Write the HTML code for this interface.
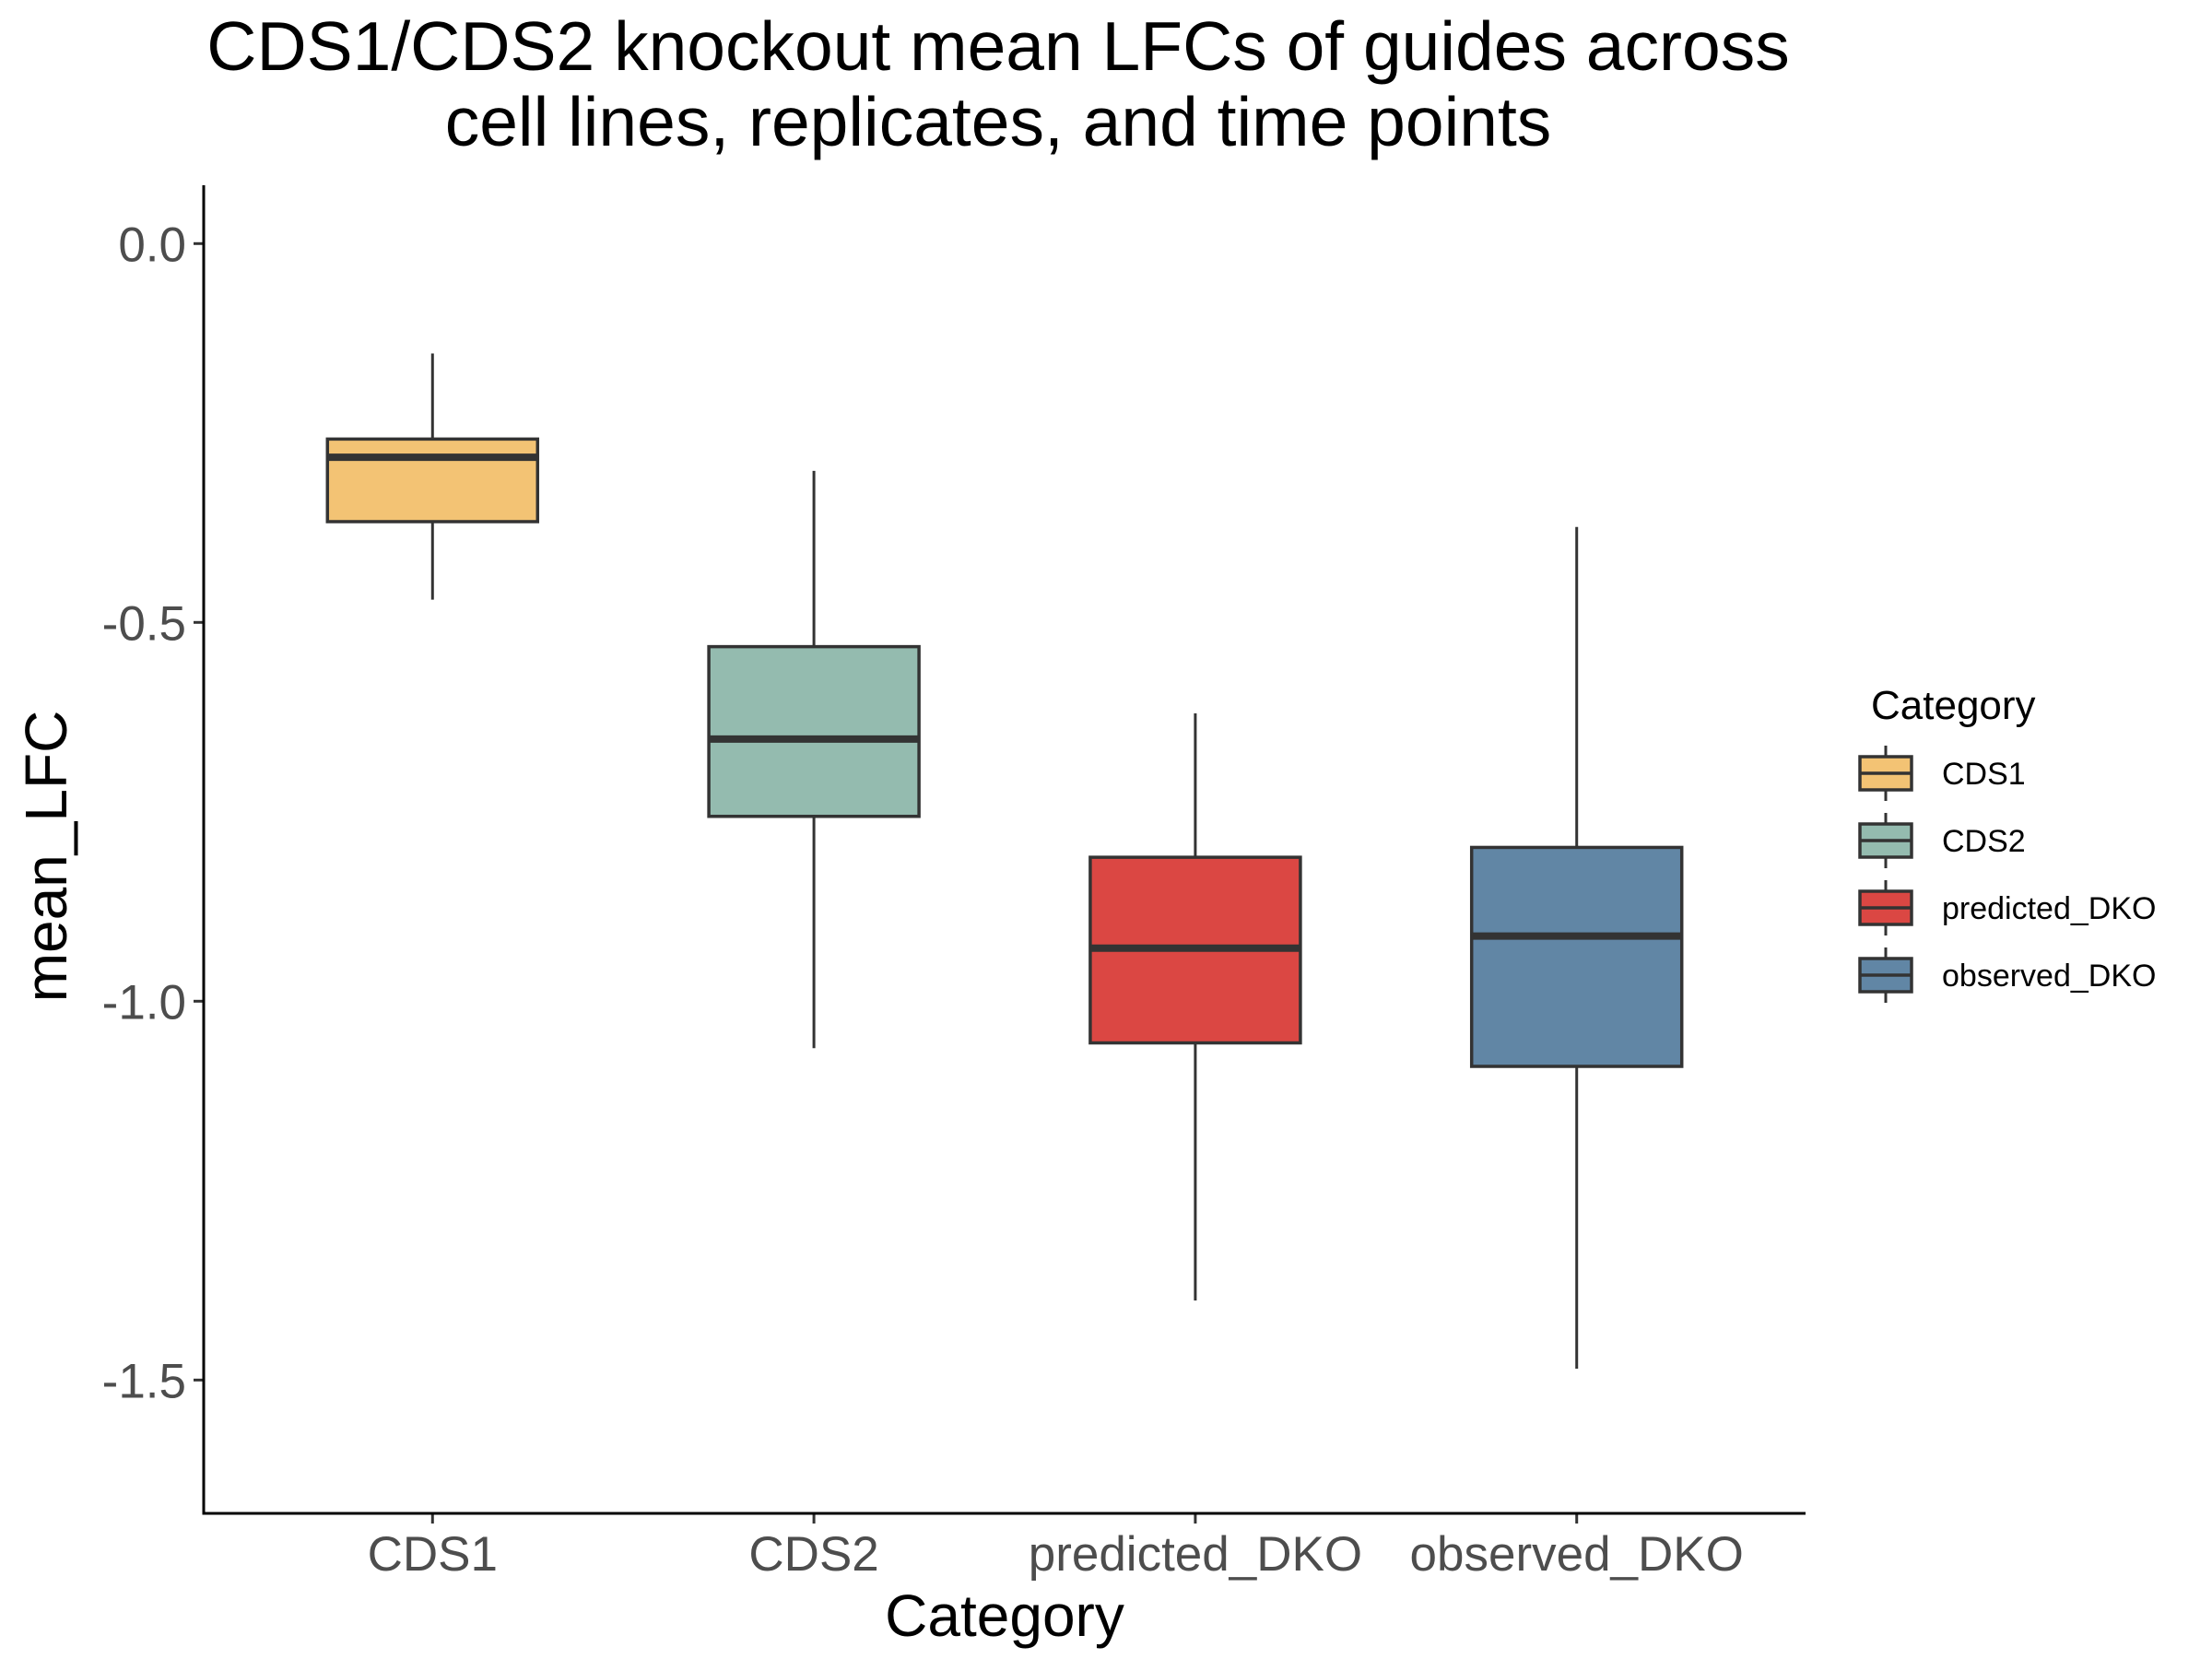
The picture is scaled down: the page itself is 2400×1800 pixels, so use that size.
<!DOCTYPE html>
<html><head><meta charset="utf-8"><style>
html,body{margin:0;padding:0;background:#fff;}
svg{display:block;font-family:"Liberation Sans",Arial,sans-serif;}
</style></head><body>
<svg id="chart" width="2400" height="1800" viewBox="0 0 2400 1800">
<text x="1083" y="76" text-anchor="middle" font-size="75" fill="#000">CDS1/CDS2 knockout mean LFCs of guides across</text>
<text x="1083" y="158" text-anchor="middle" font-size="75" fill="#000">cell lines, replicates, and time points</text>
<g id="plot"></g>
<text x="1090" y="1775" text-anchor="middle" font-size="64" fill="#000">Category</text>
<text transform="translate(72,929) rotate(-90)" text-anchor="middle" font-size="64" fill="#000">mean_LFC</text>
<g id="legend"></g>
</svg>
<script>
const categories = ["CDS1","CDS2","predicted_DKO","observed_DKO"];
const whiskerHigh = [-0.145,-0.30,-0.62,-0.374];
const q3Values = [-0.258,-0.532,-0.81,-0.797];
const medianValues = [-0.282,-0.654,-0.93,-0.914];
const q1Values = [-0.367,-0.756,-1.055,-1.086];
const whiskerLow = [-0.47,-1.062,-1.395,-1.485];
const fillColors = ["#F3C374","#94BBAF","#DB4743","#6186A5"];
const yTicks = [0,-0.5,-1.0,-1.5];
const yTickLabels = ["0.0","-0.5","-1.0","-1.5"];

const NS="http://www.w3.org/2000/svg";
const pLeft=221,pRight=1959,pTop=201,pBottom=1642;
const yMax=0.077,yMin=-1.676;
function yScale(v){return pTop+(yMax-v)/(yMax-yMin)*(pBottom-pTop);}
const unit=(pRight-pLeft)/(categories.length-1+1.2);
function xScale(i){return pLeft+unit*(i+0.6);}
const halfW=114;
function mk(tag,attrs,parent){const e=document.createElementNS(NS,tag);for(const k in attrs)e.setAttribute(k,attrs[k]);parent.appendChild(e);return e;}
const plot=document.getElementById('plot');
const dark="#333333";
categories.forEach((c,i)=>{
  const g=mk('g',{},plot);
  
  
  const cx=xScale(i);
  const w1=mk('line',{x1:cx,x2:cx,y1:yScale(whiskerHigh[i]),y2:yScale(q3Values[i]),stroke:dark,'stroke-width':3},g);
  
  
  const w2=mk('line',{x1:cx,x2:cx,y1:yScale(q1Values[i]),y2:yScale(whiskerLow[i]),stroke:dark,'stroke-width':3},g);
  
  
  const r=mk('rect',{x:cx-halfW,y:yScale(q3Values[i]),width:2*halfW,height:yScale(q1Values[i])-yScale(q3Values[i]),fill:fillColors[i],stroke:dark,'stroke-width':3.5},g);
  
  
  const m=mk('line',{x1:cx-halfW,x2:cx+halfW,y1:yScale(medianValues[i]),y2:yScale(medianValues[i]),stroke:dark,'stroke-width':8},g);
  
  
  const t=mk('line',{x1:cx,x2:cx,y1:pBottom,y2:pBottom+11,stroke:dark,'stroke-width':3},plot);
  
  
  const tl=mk('text',{x:cx,y:pBottom+62,'text-anchor':'middle','font-size':53,fill:'#4D4D4D'},plot);
  tl.textContent=c;
  
  
});
yTicks.forEach((v,i)=>{
  const t=mk('line',{x1:pLeft-11,x2:pLeft,y1:yScale(v),y2:yScale(v),stroke:dark,'stroke-width':3},plot);
  
  
  const tl=mk('text',{x:pLeft-19,y:yScale(v)+19,'text-anchor':'end','font-size':53,fill:'#4D4D4D'},plot);
  tl.textContent=yTickLabels[i];
  
  
});
const ax=mk('line',{x1:pLeft,x2:pLeft,y1:pTop,y2:pBottom+1.5,stroke:'#000','stroke-width':3},plot);


const bx=mk('line',{x1:pLeft-1.5,x2:pRight,y1:pBottom,y2:pBottom,stroke:'#000','stroke-width':3},plot);



const leg=document.getElementById('legend');
const lt=mk('text',{x:2030,y:780,'font-size':44,fill:'#000'},leg);
lt.textContent='Category';


const rowY=[839,912,985,1058];
categories.forEach((c,i)=>{
  const g=mk('g',{},leg);
  
  
  const cy=rowY[i],kx=2046;
  mk('line',{x1:kx,x2:kx,y1:cy-30,y2:cy+30,stroke:dark,'stroke-width':3},g);
  mk('rect',{x:kx-28,y:cy-18,width:56,height:36,fill:fillColors[i],stroke:dark,'stroke-width':3.5},g);
  mk('line',{x1:kx-28,x2:kx+28,y1:cy,y2:cy,stroke:dark,'stroke-width':3.5},g);
  const tx=mk('text',{x:2107,y:cy+12,'font-size':34,fill:'#000'},g);
  tx.textContent=c;
});
</script>
</body></html>
